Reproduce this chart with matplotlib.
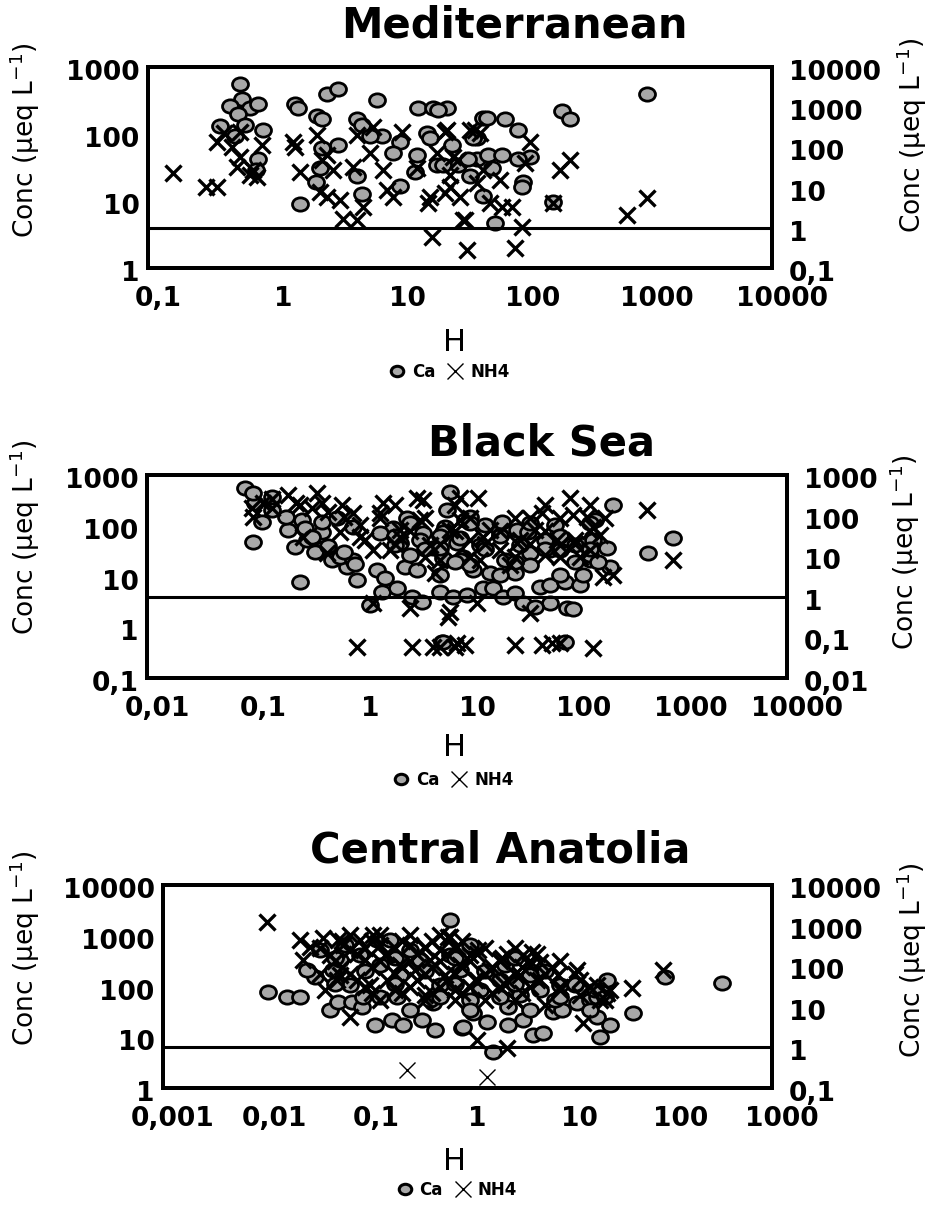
import numpy as np
import matplotlib
matplotlib.use('Agg')
import matplotlib.pyplot as plt
from matplotlib.path import Path
from matplotlib.lines import Line2D
from matplotlib.ticker import NullLocator
from matplotlib.transforms import ScaledTranslation

plt.rcParams['font.family'] = ['DejaVu Sans']

# ---------------- data (H, concentration) ----------------
# Ca is on the left axis, NH4 on the right axis

med_ca = [(0.55, 558), (0.57, 331), (0.45, 263), (0.66, 242), (0.76, 278), (0.38, 131), (0.53, 196),
          (0.60, 138), (0.83, 116), (0.50, 92), (0.76, 43), (0.73, 29), (1.5, 278), (1.6, 242),
          (2.7, 394), (3.3, 469), (2.26, 185), (2.5, 165), (4.7, 165), (5.2, 138), (6.8, 320),
          (14.6, 242), (19.2, 242), (24.9, 242), (21.1, 225), (7.5, 92), (6.0, 92), (10.5, 77),
          (9.2, 52), (14.3, 49), (17.2, 104), (18.2, 87), (27.3, 69), (20.7, 34), (13.8, 27),
          (2.4, 31), (3.3, 69), (2.5, 61), (4.7, 24), (2.2, 19), (1.65, 9.0), (5.2, 12.8), (10.5, 17),
          (30.5, 34), (38, 24), (43.3, 43), (43.3, 87), (48.3, 175), (48.3, 12), (52, 175), (72.6, 165),
          (92, 116), (207, 221), (240, 165), (1000, 394), (40.2, 87), (53, 49), (68.7, 49), (115, 46),
          (92, 43), (57, 31), (36.6, 43), (23.1, 34), (101, 19), (99, 16), (176, 9.6), (60.3, 4.75)]

med_nh4 = [(0.16, 23.5), (0.29, 10.5), (0.36, 10.5), (0.36, 139), (0.41, 224), (0.47, 104), (0.55, 59),
           (0.55, 246), (0.52, 33), (0.66, 20.6), (0.75, 18.7), (0.69, 27), (0.82, 115), (1.5, 104),
           (1.45, 139), (1.65, 25), (2.26, 203), (2.7, 65), (2.5, 49), (2.4, 7.9), (2.7, 5.9), (3.45, 4.9),
           (3.65, 1.7), (4.7, 1.56), (3.03, 27), (4.4, 33), (4.7, 203), (6.4, 327), (6.0, 71), (7.6, 27),
           (8.2, 8.7), (5.3, 3.3), (10.8, 246), (9.2, 5.9), (18.2, 5.9), (17.5, 4.1), (24, 7.2),
           (18.9, 0.60), (36, 0.28), (33.4, 1.56), (24.9, 271), (38, 271), (30.5, 49), (26.3, 20.6),
           (43.3, 12.8), (20.7, 71), (14.3, 30), (24, 246), (31.6, 5.9), (34.7, 1.56), (41.7, 271),
           (45.7, 224), (48.3, 27), (55, 4.1), (68.7, 3.3), (82.6, 3.3), (87, 0.31), (99, 1.06),
           (115, 139), (105, 40), (66, 15.5), (27.8, 59), (26.3, 10.5), (200, 27), (240, 49), (176, 4.1),
           (689, 2.1), (1000, 5.4)]

bs_ca = [(0.083, 554), (0.103, 281), (0.098, 442), (0.12, 119), (0.148, 369), (0.098, 48), (0.27, 7.8),
         (0.21, 82), (0.244, 38), (0.284, 130), (0.316, 52), (0.437, 75), (0.447, 36), (0.376, 30),
         (0.437, 119), (0.60, 142), (0.54, 21), (0.75, 15.4), (0.64, 24), (0.93, 8.5), (0.85, 21),
         (1.23, 2.7), (1.43, 13.4), (1.70, 9.3), (1.59, 5.0), (2.2, 5.9), (2.02, 90), (2.73, 142),
         (2.62, 15.4), (3.39, 13.4), (3.05, 3.9), (3.78, 3.1), (5.57, 5.0), (6.21, 21), (6.49, 204),
         (6.92, 462), (7.38, 3.9), (4.79, 36), (6.21, 94), (9.55, 130), (9.2, 24), (5.82, 0.51),
         (3.86, 72), (1.53, 72), (0.85, 94), (2.35, 46), (10.6, 149), (21.2, 119), (29.4, 82),
         (37.2, 75), (5.94, 75), (8.04, 46), (5.94, 23), (8.57, 21), (11.4, 13.4), (14.1, 5.9),
         (9.97, 4.3), (17.5, 5.9), (21.7, 3.9), (28.1, 4.7), (33.4, 3.0), (28.1, 11.7), (16.4, 11.7),
         (48.2, 6.2), (59.8, 6.8), (82.7, 7.8), (114, 6.8), (122, 10.7), (59.8, 3.0), (43.3, 2.5),
         (86.3, 2.4), (98.4, 2.3), (158, 130), (205, 36), (151, 52), (218, 15.4), (142, 21), (233, 256),
         (851, 57), (495, 29), (59.8, 33), (38.9, 29), (82.7, 0.51), (5.94, 0.51), (3.62, 52),
         (5.57, 36), (8.57, 57), (13.2, 42), (20.3, 66), (31.3, 42), (53.7, 52), (74, 33), (103, 42),
         (142, 27), (22.6, 21), (38.9, 16.9), (10.6, 16.9), (2.92, 27), (2.11, 42), (66.7, 103),
         (14.7, 103), (170, 19), (2.92, 113), (10.6, 113), (38.9, 113), (142, 113), (2.11, 63),
         (5.57, 63), (20.3, 63), (74, 63), (4.03, 35), (14.7, 35), (53.7, 35), (142, 35), (7.7, 19.3),
         (28.1, 19.3), (103, 19.3), (5.57, 10.7), (20.3, 10.7), (74, 10.7), (0.15, 200), (0.2, 150),
         (0.3, 90), (0.35, 60), (0.5, 40), (0.7, 30), (0.9, 18)]

bs_nh4 = [(0.098, 94), (0.096, 151), (0.122, 201), (0.148, 151), (0.21, 322), (0.27, 182), (0.39, 354),
          (0.437, 201), (0.67, 182), (0.85, 114), (1.63, 201), (3.39, 267), (3.86, 242), (1.53, 114),
          (0.29, 30), (0.99, 30), (0.93, 0.059), (3.05, 0.059), (2.92, 0.52), (6.62, 0.32), (1.31, 0.69),
          (5.0, 3.8), (8.57, 267), (2.35, 30), (0.49, 11.8), (0.64, 40), (1.31, 14.2), (4.79, 0.059),
          (7.7, 0.059), (12.7, 267), (92, 267), (485, 137), (851, 8.1), (233, 3.4), (188, 3.1),
          (38.9, 86), (51, 114), (98.4, 103), (133, 94), (151, 53), (6.92, 0.43), (12.4, 0.69),
          (38.9, 0.39), (8.04, 0.072), (9.55, 0.065), (28.1, 0.065), (51, 0.065), (62.5, 0.072),
          (74, 0.072), (151, 0.054), (5.57, 0.059), (14.1, 30), (29.4, 20.8), (69.7, 25), (114, 9.7),
          (2.35, 44), (3.62, 78), (4.49, 18.9), (6.92, 44), (10.6, 25), (16.4, 44), (20.3, 14.2),
          (31.3, 25), (43.3, 44), (53.7, 10.7), (74, 18.9), (103, 25), (142, 14.2), (176, 33),
          (13.2, 8.1), (25.2, 6.1), (8.57, 78), (5.57, 8.1), (1.89, 14.2), (1.1, 25), (2.11, 182),
          (7.7, 182), (53.7, 182), (142, 182), (1.53, 86), (4.03, 86), (10.6, 86), (28.1, 86), (74, 86),
          (196, 86), (2.92, 41.8), (7.7, 41.8), (20.3, 41.8), (53.7, 41.8), (142, 41.8), (2.11, 20),
          (5.57, 20), (14.7, 20), (38.9, 20), (103, 20), (4.03, 9.6), (10.6, 9.6), (28.1, 9.6),
          (74, 9.6), (0.15, 250), (0.25, 200), (0.35, 150), (0.5, 120), (0.7, 90), (1.0, 60)]

ca_ca = [(0.0108, 78), (0.0167, 62), (0.0224, 62), (0.0315, 154), (0.0262, 211), (0.0442, 34),
         (0.053, 50), (0.0728, 50), (0.0912, 39), (0.123, 17.4), (0.18, 22), (0.232, 17.4), (0.356, 22),
         (0.479, 13.9), (0.883, 15.2), (0.673, 2042), (0.0473, 211), (0.0934, 62), (0.202, 62),
         (0.457, 47), (0.128, 825), (0.904, 15.9), (1.56, 20), (2.51, 17.4), (3.52, 22), (4.42, 11.1),
         (5.54, 12.1), (1.78, 5.1), (6.95, 31), (8.53, 34), (12, 47), (16.1, 54), (18.9, 25),
         (20.2, 10.1), (25.3, 17.4), (23.7, 134), (18.9, 62), (42.7, 30), (88.3, 154), (321, 117),
         (2.51, 39), (1.13, 30), (0.0554, 333), (0.0873, 418), (0.137, 265), (0.216, 169), (0.34, 333),
         (0.536, 107), (0.844, 211), (1.33, 85), (2.09, 134), (3.29, 68), (5.17, 85), (8.15, 107),
         (0.172, 825), (0.271, 524), (0.0695, 107), (0.673, 418), (1.06, 657), (2.34, 265),
         (4.13, 169), (11.5, 107), (18.0, 85), (0.0352, 524), (0.0621, 657), (0.427, 54), (1.06, 54),
         (7.28, 54), (0.0495, 364), (0.193, 364), (0.753, 364), (2.94, 364), (0.0977, 202),
         (0.381, 202), (1.49, 202), (5.8, 202), (0.0495, 112), (0.193, 112), (0.753, 112), (2.94, 112),
         (11.5, 112), (0.137, 62), (0.536, 62), (2.09, 62), (8.15, 62), (22.6, 62), (0.271, 34),
         (1.06, 34), (4.13, 34), (16.1, 34)]

ca_nh4 = [(0.0106, 1227), (0.0224, 442), (0.0377, 495), (0.053, 442), (0.0593, 333), (0.0281, 297),
          (0.0239, 142), (0.117, 586), (0.137, 333), (0.381, 297), (0.673, 523), (0.789, 297),
          (0.0695, 5.6), (0.0518, 45.7), (0.643, 523), (1.27, 251), (2.19, 159), (3.52, 189),
          (4.32, 224), (5.17, 127), (7.8, 60.7), (12, 80.5), (41.8, 29), (84.4, 80.5), (23.7, 21.9),
          (13.7, 4.0), (2.45, 0.97), (1.24, 1.52), (18.9, 34.4), (12.8, 45.7), (0.0442, 189),
          (0.0695, 251), (0.0977, 142), (0.154, 189), (0.216, 107), (0.304, 80.5), (0.427, 142),
          (0.6, 60.7), (0.844, 107), (1.19, 45.7), (1.67, 80.5), (2.34, 34.4), (3.29, 60.7),
          (5.17, 45.7), (8.15, 25.9), (12.8, 19.5), (0.0554, 60.7), (0.109, 34.4), (0.193, 25.9),
          (0.381, 19.5), (0.753, 25.9), (1.49, 14.7), (2.94, 14.7), (5.8, 11.1), (0.0873, 442),
          (0.271, 333), (0.536, 251), (1.06, 189), (2.09, 142), (4.13, 107), (0.0394, 25.9),
          (20.2, 14.7), (25.3, 25.9), (0.0695, 586), (0.137, 586), (0.271, 586), (0.536, 586),
          (0.0352, 281), (0.0977, 281), (0.193, 281), (0.381, 281), (0.753, 281), (1.49, 281),
          (2.94, 281), (0.0495, 134), (0.137, 134), (0.271, 134), (0.536, 134), (1.06, 134),
          (2.09, 134), (4.13, 134), (8.15, 134), (0.0352, 64), (0.0695, 64), (0.193, 64), (0.381, 64),
          (0.753, 64), (1.49, 64), (2.94, 64), (5.8, 64), (11.5, 64), (0.0977, 31), (0.271, 31),
          (0.536, 31), (1.06, 31), (2.09, 31), (4.13, 31), (8.15, 31), (16.1, 31), (0.137, 14.7),
          (0.381, 14.7), (0.753, 14.7), (2.94, 14.7), (22.6, 14.7), (0.058, 418), (0.115, 418),
          (0.226, 418), (0.447, 418), (0.883, 418), (0.0815, 200), (0.161, 200), (0.318, 200),
          (0.628, 200), (1.24, 200), (2.45, 200), (4.84, 200), (0.058, 95.5), (0.115, 95.5),
          (0.226, 95.5), (0.447, 95.5), (0.883, 95.5), (1.74, 95.5), (3.44, 95.5), (6.8, 95.5),
          (0.0815, 45.7), (0.161, 45.7), (0.318, 45.7), (0.628, 45.7), (1.24, 45.7), (2.45, 45.7),
          (4.84, 45.7), (0.115, 21.9), (0.226, 21.9), (0.447, 21.9), (0.883, 21.9), (1.74, 21.9),
          (3.44, 21.9)]
# two faint NH4 points below the reference line in Central Anatolia
ca_nh4_low = [(0.254, 0.28), (1.56, 0.19)]

# axis ticks and labels
med_x = [0.1, 1, 10, 100, 1000, 10000]
med_xlab = ['0,1', '1', '10', '100', '1000', '10000']
med_y = [1, 10, 100, 1000]
med_ylab = ['1', '10', '100', '1000']
med_y2 = [0.1, 1, 10, 100, 1000, 10000]
med_y2lab = ['0,1', '1', '10', '100', '1000', '10000']

bs_x = [0.01, 0.1, 1, 10, 100, 1000, 10000]
bs_xlab = ['0,01', '0,1', '1', '10', '100', '1000', '10000']
bs_y = [0.1, 1, 10, 100, 1000]
bs_ylab = ['0,1', '1', '10', '100', '1000']
bs_y2 = [0.01, 0.1, 1, 10, 100, 1000]
bs_y2lab = ['0,01', '0,1', '1', '10', '100', '1000']

ca_x = [0.001, 0.01, 0.1, 1, 10, 100, 1000]
ca_xlab = ['0,001', '0,01', '0,1', '1', '10', '100', '1000']
ca_y = [1, 10, 100, 1000, 10000]
ca_ylab = ['1', '10', '100', '1000', '10000']
ca_y2 = [0.1, 1, 10, 100, 1000, 10000]
ca_y2lab = ['0,1', '1', '10', '100', '1000', '10000']

titles = ['Mediterranean', 'Black Sea', 'Central Anatolia']
ylabel = 'Conc (μeq L$^{-1}$)'
ref_level = 1  # horizontal reference line on the right axis

# ---------------- layout ----------------
W, H = 928, 1211
fig = plt.figure(figsize=(W / 100, H / 100), dpi=100)

# axes box in pixels: left, top, right, bottom
boxes = [(148, 67, 772, 268), (147, 475, 787, 678), (163, 885, 772, 1088)]
title_pos = [(514, 25), (542, 443), (500, 850)]
ylab_left = [(25, 140), (25, 537), (25, 948)]
ylab_right = [(912, 135), (905, 552), (912, 960)]
xlab_pos = [(455, 342), (455, 747), (455, 1162)]
leg_pos = [(448, 372), (452, 780), (456, 1190)]

panels = [
    (med_ca, med_nh4, [], med_x, med_xlab, med_y, med_ylab, med_y2, med_y2lab),
    (bs_ca, bs_nh4, [], bs_x, bs_xlab, bs_y, bs_ylab, bs_y2, bs_y2lab),
    (ca_ca, ca_nh4, ca_nh4_low, ca_x, ca_xlab, ca_y, ca_ylab, ca_y2, ca_y2lab),
]

# slightly wide ellipse marker for Ca
circ = Path.unit_circle()
ell = Path(circ.vertices * np.array([1.2, 1.0]), circ.codes)
gray = '#a8a8a8'


def to_axes(ax_box, px, py):
    l, t, r, b = ax_box
    return (px - l) / (r - l), (b - py) / (b - t)


for i, (ca, nh4, nh4_low, xt, xtl, yt, ytl, y2t, y2tl) in enumerate(panels):
    l, t, r, b = boxes[i]
    ax = fig.add_axes([l / W, 1 - b / H, (r - l) / W, (b - t) / H])
    ax2 = ax.twinx()
    for a in (ax, ax2):
        a.set_xscale('log')
        a.set_yscale('log')
        for s in a.spines.values():
            s.set_linewidth(2.8)
            s.set_color('black')

    ax.set_xlim(xt[0], xt[-1])
    ax.set_ylim(yt[0], yt[-1])
    ax2.set_ylim(y2t[0], y2t[-1])

    cx, cy = np.array(ca, dtype=float).T
    ax.plot(cx, cy, ls='none', marker=ell, ms=11.5, mfc=gray, mec='black', mew=2.0, zorder=3)
    nx, ny = np.array(nh4, dtype=float).T
    ax2.plot(nx, ny, ls='none', marker='x', ms=11, mec='black', mew=2.4, zorder=4)
    if nh4_low:
        lx, ly = np.array(nh4_low, dtype=float).T
        ax2.plot(lx, ly, ls='none', marker='x', ms=11, mec='black', mew=1.0, zorder=4)
    ax2.axhline(ref_level, color='black', lw=2.2, zorder=2)

    # ticks
    ax.set_xticks(xt, xtl, fontweight='bold', fontsize=19)
    ax.set_yticks(yt, ytl, fontweight='bold', fontsize=19)
    ax2.set_yticks(y2t, y2tl, fontweight='bold', fontsize=19)
    for a in (ax, ax2):
        a.xaxis.set_minor_locator(NullLocator())
        a.yaxis.set_minor_locator(NullLocator())
        a.tick_params(length=0)
    ax.tick_params(axis='x', pad=13)
    ax.tick_params(axis='y', pad=6)
    ax2.tick_params(axis='y', pad=12)

    dx = ScaledTranslation(10 / 100, 0, fig.dpi_scale_trans)
    dy = ScaledTranslation(0, -3 / 100, fig.dpi_scale_trans)
    for lab in ax.get_xticklabels():
        lab.set_transform(lab.get_transform() + dx)
    for lab in ax.get_yticklabels() + ax2.get_yticklabels():
        lab.set_transform(lab.get_transform() + dy)

    # title
    tx, ty = to_axes(boxes[i], *title_pos[i])
    ax.text(tx, ty, titles[i], transform=ax.transAxes, ha='center', va='center',
            fontsize=30, fontweight='bold')

    # axis labels
    ax.set_ylabel(ylabel, fontsize=19)
    ax.yaxis.set_label_coords(*to_axes(boxes[i], *ylab_left[i]))
    ax.yaxis.label.set_va('center')
    ax2.set_ylabel(ylabel, fontsize=19, rotation=90)
    ax2.yaxis.set_label_coords(*to_axes(boxes[i], *ylab_right[i]))
    ax2.yaxis.label.set_va('center')
    ax.set_xlabel('H', fontsize=22)
    ax.xaxis.set_label_coords(*to_axes(boxes[i], *xlab_pos[i]))
    ax.xaxis.label.set_va('center')

    # legend
    handles = [Line2D([], [], ls='none', marker=ell, ms=9, mfc=gray, mec='black', mew=2.2, label='Ca'),
               Line2D([], [], ls='none', marker='x', ms=12, mec='black', mew=1.0, label='NH4')]
    ax2.legend(handles=handles, loc='center', bbox_to_anchor=to_axes(boxes[i], *leg_pos[i]),
               bbox_transform=ax.transAxes, ncol=2, frameon=False,
               prop={'weight': 'bold', 'size': 12}, handletextpad=0.3, columnspacing=0.6,
               handlelength=1.2)

fig.savefig('out.png', dpi=100)
